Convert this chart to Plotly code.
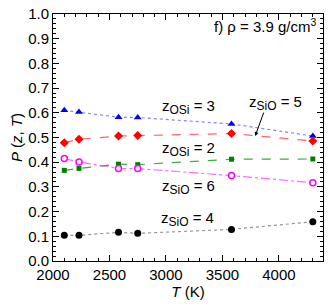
import plotly.graph_objects as go

T = [2100, 2230, 2580, 2750, 3580, 4300]
z_osi3 = [0.610, 0.603, 0.582, 0.581, 0.555, 0.506]
z_sio5 = [0.479, 0.493, 0.506, 0.508, 0.516, 0.486]
z_osi2 = [0.367, 0.375, 0.392, 0.390, 0.412, 0.413]
z_sio6 = [0.415, 0.401, 0.375, 0.374, 0.346, 0.317]
z_sio4 = [0.104, 0.104, 0.116, 0.112, 0.128, 0.159]

fig = go.Figure()

def add(y, lc, mc, dash, sym, size, lw=1.2, open_=False):
    fig.add_trace(go.Scatter(
        x=T, y=y, mode="lines+markers",
        line=dict(color=lc, dash=dash, width=lw),
        marker=dict(symbol=sym, size=size, color=("white" if open_ else mc),
                    line=dict(color=mc, width=1.5 if open_ else 0)),
        showlegend=False, cliponaxis=False))

add(z_osi3, "rgba(90,90,255,0.75)", "#0000ee", "dot", "triangle-up", 7)
add(z_sio5, "rgba(255,60,60,0.8)", "#ff0000", "dash", "diamond", 7)
add(z_osi2, "rgba(0,140,0,0.75)", "#008000", "dash", "square", 5)
add(z_sio6, "rgba(255,70,255,0.8)", "#ff00ff", "dashdot", "circle", 6, open_=True)
add(z_sio4, "rgba(120,120,120,0.8)", "#000000", "dot", "circle", 7)

font = dict(family="Liberation Sans, Arial, sans-serif", size=15, color="black")

def sub(main, s):
    return main + "<sub><span style='font-size:12px'>" + s + "</span></sub>"

ann = [
    dict(x=2950, y=0.622, text=sub("z", "OSi") + " = 3"),
    dict(x=2950, y=0.455, text=sub("z", "OSi") + " = 2"),
    dict(x=2950, y=0.298, text=sub("z", "SiO") + " = 6"),
    dict(x=2935, y=0.170, text=sub("z", "SiO") + " = 4"),
]
annotations = []
for a in ann:
    annotations.append(dict(x=a["x"], y=a["y"], xref="x", yref="y", text=a["text"],
                            showarrow=False, xanchor="left", yanchor="middle", font=font))
annotations.append(dict(x=3719, y=0.640, xref="x", yref="y", text=sub("z", "SiO") + " = 5",
                        showarrow=False, xanchor="left", yanchor="middle", font=font))
annotations.append(dict(x=3790, y=0.506, xref="x", yref="y", ax=3870, ay=0.607,
                        axref="x", ayref="y", text="", showarrow=True,
                        arrowhead=2, arrowsize=0.8, arrowwidth=1, arrowcolor="black",
                        standoff=0))
annotations.append(dict(x=1, y=0.952, xref="paper", yref="paper", xanchor="right",
                        yanchor="middle", showarrow=False, text="f) ρ = 3.9 g/cm<sup>3</sup>",
                        font=font, xshift=-5))

fig.update_layout(
    width=324, height=297,
    margin=dict(l=45, r=9, t=6, b=44, autoexpand=False),
    paper_bgcolor="white", plot_bgcolor="white",
    font=font,
    annotations=annotations,
    xaxis=dict(range=[2000, 4390], tickvals=[2000, 2500, 3000, 3500, 4000],
               ticks="inside", ticklen=6, tickwidth=1, tickcolor="black",
               showline=True, linecolor="black", linewidth=1, mirror="allticks",
               showgrid=False, zeroline=False, automargin=False,
               ticklabeloverflow="allow",
               minor=dict(dtick=100, ticks="inside", ticklen=3, tickcolor="black", showgrid=False),
               title=dict(text="<i>T</i> (K)", font=font, standoff=2),
               tickfont=font),
    yaxis=dict(range=[0, 1.0], dtick=0.1, tickformat=".1f",
               ticks="inside", ticklen=6, tickwidth=1, tickcolor="black",
               showline=True, linecolor="black", linewidth=1, mirror="allticks",
               showgrid=False, zeroline=False, automargin=False,
               ticklabeloverflow="allow",
               minor=dict(dtick=0.02, ticks="inside", ticklen=3, tickcolor="black", showgrid=False),
               title=dict(text="<i>P</i> (<i>z</i>, <i>T</i>)", font=font, standoff=6),
               tickfont=font),
)

fig.write_html("out.html")
